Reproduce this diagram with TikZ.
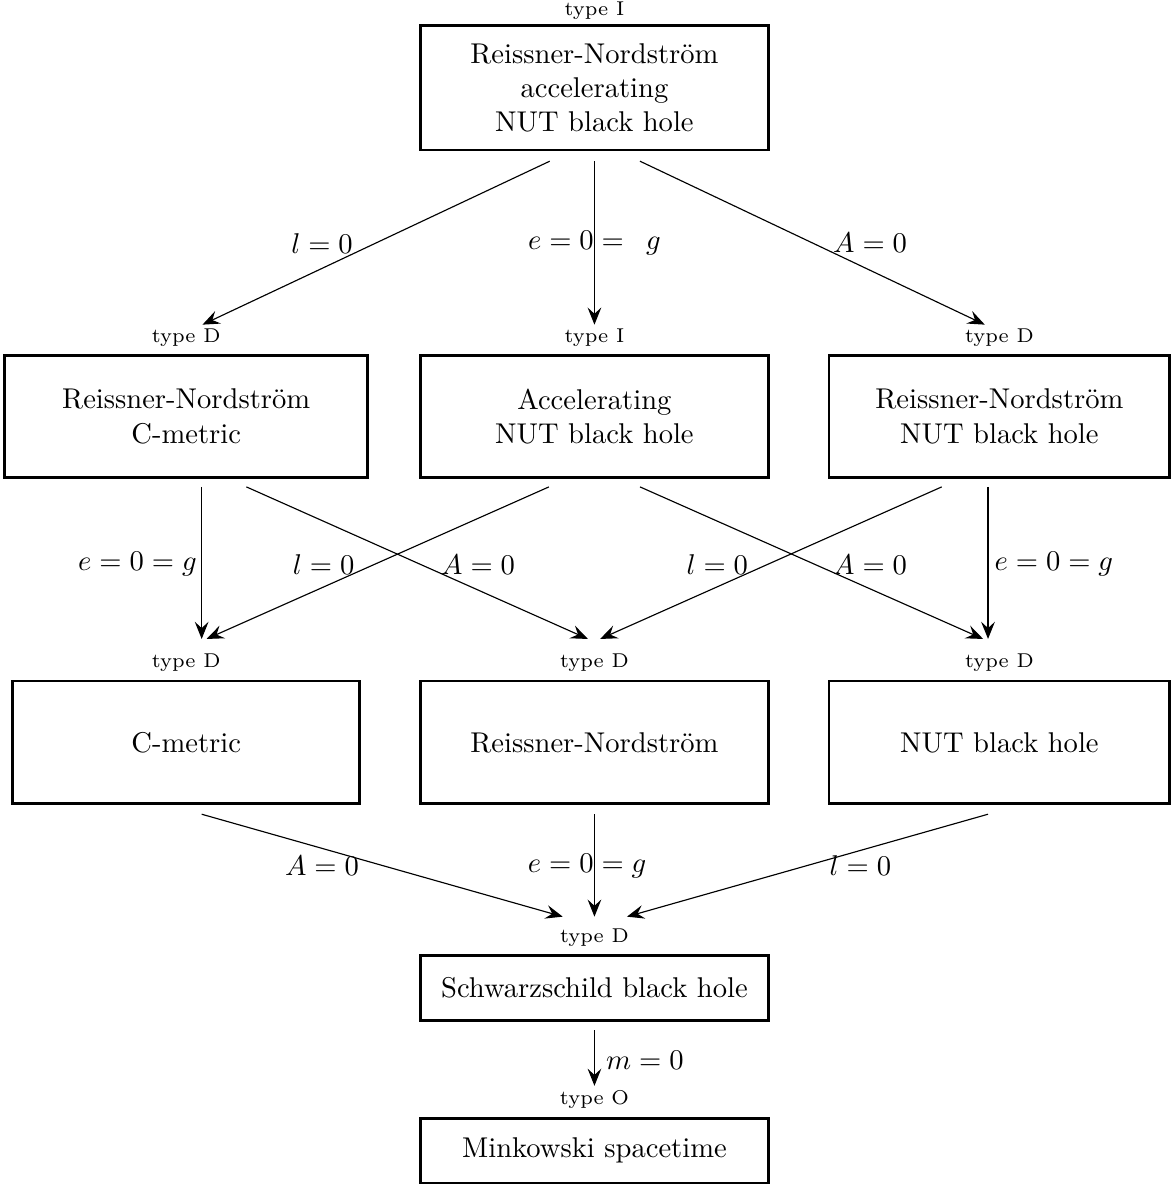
\documentclass[tikz,border=0pt]{standalone}
\usepackage{amsmath}
\usepackage{amssymb}
\usepackage{tikz}
\usetikzlibrary{arrows.meta,positioning}

\begin{document}
\begin{tikzpicture}[>={Stealth[length=6pt, width=4.8pt, inset=2.2pt]},
	caja/.style={draw, line width=1pt, rectangle, align=center, inner sep=2pt},
	tipo/.style={label={[font=\scriptsize, label distance=-0.8pt]above:#1}}]
	\useasboundingbox (0,0) rectangle (14.45,-14.56);
	% Cajas
	\node[caja, label={[font=\scriptsize, label distance=-1.8pt]above:type I}, minimum width=4.27cm, minimum height=1.53cm] (rnacc) at (7.31,-1.08) {Reissner-Nordstr\"om\\accelerating\\NUT black hole};
	\node[caja, tipo=type D, minimum width=4.46cm, minimum height=1.50cm] (rncm) at (2.29,-5.12) {Reissner-Nordstr\"om\\C-metric};
	\node[caja, tipo=type I, minimum width=4.27cm, minimum height=1.50cm] (accnut) at (7.31,-5.12) {Accelerating\\NUT black hole};
	\node[caja, tipo=type D, minimum width=4.19cm, minimum height=1.50cm] (rnnut) at (12.29,-5.12) {Reissner-Nordstr\"om\\NUT black hole};
	\node[caja, tipo=type D, minimum width=4.27cm, minimum height=1.51cm] (cmet) at (2.29,-9.13) {C-metric};
	\node[caja, tipo=type D, minimum width=4.27cm, minimum height=1.51cm] (rn) at (7.31,-9.13) {Reissner-Nordstr\"om};
	\node[caja, tipo=type D, minimum width=4.19cm, minimum height=1.51cm] (nut) at (12.29,-9.13) {NUT black hole};
	\node[caja, tipo=type D, minimum width=4.27cm, minimum height=0.80cm] (schw) at (7.31,-12.15) {Schwarzschild black hole};
	\node[caja, tipo=type O, minimum width=4.27cm, minimum height=0.80cm] (mink) at (7.31,-14.15) {Minkowski spacetime};

	% Primer nivel
	\draw[->] ([xshift=-0.55cm, yshift=-0.12cm]rnacc.south) -- ([xshift=0.20cm, yshift=0.36cm]rncm.north);
	\draw[->] ([yshift=-0.12cm]rnacc.south) -- ([yshift=0.36cm]accnut.north);
	\draw[->] ([xshift=0.56cm, yshift=-0.12cm]rnacc.south) -- ([xshift=-0.18cm, yshift=0.36cm]rnnut.north);
	\node (la) at (3.96,-2.99) {$l = 0$};
	\node (lb) at (7.31,-2.99) {$e = 0 = \enspace g$};
	\node (lc) at (10.70,-2.99) {$A = 0$};

	% Segundo nivel
	\draw[->] ([xshift=0.19cm, yshift=-0.10cm]rncm.south) -- ([xshift=0.19cm, yshift=0.50cm]cmet.north);
	\draw[->] ([xshift=0.74cm, yshift=-0.10cm]rncm.south) -- ([xshift=-0.08cm, yshift=0.50cm]rn.north);
	\draw[->] ([xshift=-0.56cm, yshift=-0.10cm]accnut.south) -- ([xshift=0.25cm, yshift=0.50cm]cmet.north);
	\draw[->] ([xshift=0.56cm, yshift=-0.10cm]accnut.south) -- ([xshift=-0.20cm, yshift=0.50cm]nut.north);
	\draw[->] ([xshift=-0.71cm, yshift=-0.10cm]rnnut.south) -- ([xshift=0.07cm, yshift=0.50cm]rn.north);
	\draw[->] ([xshift=-0.14cm, yshift=-0.10cm]rnnut.south) -- ([xshift=-0.14cm, yshift=0.50cm]nut.north);
	\node (ld) at (1.69,-6.94) {$e = 0 = g$};
	\node (le) at (3.98,-6.94) {$l = 0$};
	\node (lf) at (5.88,-6.94) {$A = 0$};
	\node (lg) at (8.82,-6.94) {$l = 0$};
	\node (lh) at (10.70,-6.94) {$A = 0$};
	\node (li) at (12.96,-6.94) {$e = 0 = g$};

	% Tercer nivel
	\draw[->] ([xshift=0.19cm, yshift=-0.11cm]cmet.south) -- ([xshift=-0.39cm, yshift=0.46cm]schw.north);
	\draw[->] ([yshift=-0.11cm]rn.south) -- ([yshift=0.46cm]schw.north);
	\draw[->] ([xshift=-0.14cm, yshift=-0.11cm]nut.south) -- ([xshift=0.40cm, yshift=0.46cm]schw.north);
	\node (lj) at (3.96,-10.65) {$A = 0$};
	\node (lk) at (7.22,-10.65) {$e = 0 = g$};
	\node (ll) at (10.58,-10.65) {$l = 0$};

	% Ultimo
	\draw[->] ([yshift=-0.10cm]schw.south) -- ([yshift=0.38cm]mink.north);
	\node[anchor=west] (lm) at (7.33,-13.04) {$m = 0$};
\end{tikzpicture}
\end{document}
